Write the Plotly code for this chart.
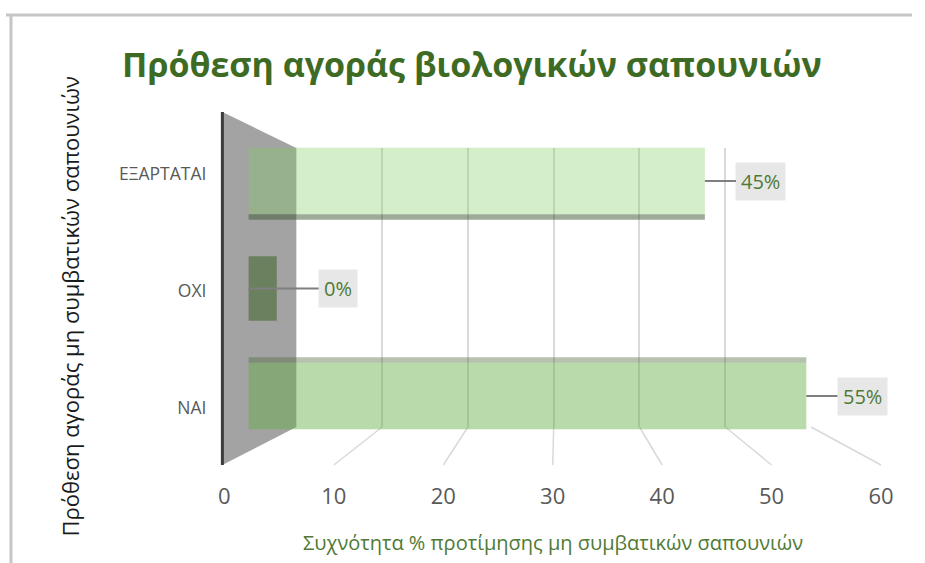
import plotly.graph_objects as go

# ---- data ----
categories = ["ΝΑΙ", "ΟΧΙ", "ΕΞΑΡΤΑΤΑΙ"]
values = [55, 0, 45]
label_texts = ["55%", "0%", "45%"]
x_ticks = [0, 10, 20, 30, 40, 50, 60]

title_text = "Πρόθεση αγοράς βιολογικών σαπουνιών"
x_title = "Συχνότητα % προτίμησης μη συμβατικών σαπουνιών"
y_title = "Πρόθεση αγοράς μη συμβατικών σαπουνιών"

W, H = 925, 563
# horizontal calibration of the capture (observed: screen_x = 0.98 * x + 5.5)
SX, OX = 0.98, 5.5
px = lambda v: ((v - OX) / SX) / W
py = lambda v: 1 - v / H

# perspective geometry (target pixels)
FRONT = (224, 881)     # value 0 and 60 at floor front edge
BACK = (296, 811)      # value 0 and 60 on back wall
MID = (248, 857)       # bar front faces
WALL_TOP, WALL_BOT, FRONT_Y = 148, 427, 465
XMAX = 60
DEPTH = 2.8            # visible depth of a zero-length bar (style)

fig = go.Figure()

# bars (last subplot so they sit above the grid)
bar_colors = ["rgba(100,172,66,0.45)", "rgba(100,172,66,0.45)", "rgba(125,205,95,0.34)"]
fig.add_trace(go.Bar(
    x=values, y=categories, orientation="h",
    marker=dict(color=bar_colors, line=dict(width=0)),
    width=0.62, xaxis="x3", yaxis="y3", hoverinfo="skip", showlegend=False,
))
# visible top / bottom faces of the 3-D bars
fig.add_trace(go.Bar(
    x=values, y=categories, orientation="h",
    marker=dict(color=["rgba(80,110,60,0.42)", "rgba(80,110,60,0.42)", "rgba(60,90,50,0.5)"],
                line=dict(width=0)),
    width=0.05, offset=[0.31, 0.31, -0.36], xaxis="x3", yaxis="y3",
    hoverinfo="skip", showlegend=False,
))
# end cap of a zero-length bar
fig.add_trace(go.Bar(
    x=[DEPTH if v == 0 else 0 for v in values], y=categories, orientation="h",
    marker=dict(color="rgba(60,100,40,0.55)", line=dict(width=0)),
    width=0.6, xaxis="x3", yaxis="y3", hoverinfo="skip", showlegend=False,
))
# dummy traces to instantiate the other subplots
fig.add_trace(go.Scatter(x=[None], y=[None], xaxis="x", yaxis="y", showlegend=False, hoverinfo="skip"))
fig.add_trace(go.Scatter(x=[None], y=[None], xaxis="x2", yaxis="y2", showlegend=False, hoverinfo="skip"))

bar_dom = [py(396 + 53.75), py(181 - 53.75)]
lab_dom = [py(408 + 58.5), py(174 - 58.5)]

fig.update_layout(
    width=W, height=H, autosize=False,
    margin=dict(l=0, r=0, t=0, b=0),
    paper_bgcolor="white", plot_bgcolor="rgba(0,0,0,0)",
    showlegend=False, barmode="overlay",
    font=dict(family="Open Sans", color="#595959"),
    title=dict(text=title_text, x=px(468), y=py(65), xanchor="center", yanchor="middle",
               font=dict(family="Open Sans", size=34, color="#3e6b24", weight=700)),
    # back wall grid
    xaxis=dict(domain=[px(BACK[0]), px(BACK[1])], range=[0, XMAX], tickvals=x_ticks[1:],
               showgrid=True, gridcolor="#d9d9d9", gridwidth=1.5, showticklabels=False,
               zeroline=False, showline=False, ticks="", anchor="y", fixedrange=True),
    yaxis=dict(domain=[py(WALL_BOT), py(WALL_TOP)], range=[0, 1], showgrid=False,
               showticklabels=False, zeroline=False, showline=False, ticks="", anchor="x"),
    # front tick labels + category labels
    xaxis2=dict(domain=[px(FRONT[0]), px(FRONT[1])], range=[0, XMAX], tickvals=x_ticks,
                showgrid=False, zeroline=False, showline=False, ticks="",
                anchor="free", position=py(481), tickfont=dict(size=22, color="#595959")),
    yaxis2=dict(domain=lab_dom, range=[-0.5, 2.5], tickvals=[0, 1, 2], ticktext=categories,
                showgrid=False, zeroline=False, showline=False, ticks="",
                anchor="free", position=px(206), tickfont=dict(size=17.5, color="#595959")),
    # bars
    xaxis3=dict(domain=[px(MID[0]), px(MID[1])], range=[0, XMAX], visible=False, anchor="y3"),
    yaxis3=dict(domain=bar_dom, range=[-0.5, 2.5], type="category",
                categoryorder="array", categoryarray=categories, visible=False, anchor="x3"),
)

shapes = []
# outer chart border (top and left)
shapes.append(dict(type="line", xref="paper", yref="paper", x0=0, x1=1, y0=py(15), y1=py(15),
                   line=dict(color="#c6c6c6", width=3), layer="below"))
shapes.append(dict(type="line", xref="paper", yref="paper", x0=px(10.5), x1=px(10.5), y0=py(15), y1=py(563),
                   line=dict(color="#c6c6c6", width=3), layer="below"))
# side wall
wall = (f"M {px(222)} {py(112)} L {px(BACK[0])} {py(WALL_TOP)} L {px(BACK[0])} {py(WALL_BOT)} "
        f"L {px(222)} {py(FRONT_Y)} Z")
shapes.append(dict(type="path", xref="paper", yref="paper", path=wall,
                   fillcolor="#a3a3a3", line=dict(width=0), layer="below"))
# floor grid lines from back wall to front edge
for v in x_ticks[1:]:
    xb = BACK[0] + v / XMAX * (BACK[1] - BACK[0])
    xf = FRONT[0] + v / XMAX * (FRONT[1] - FRONT[0])
    shapes.append(dict(type="line", xref="paper", yref="paper", x0=px(xb), y0=py(WALL_BOT),
                       x1=px(xf), y1=py(FRONT_Y), line=dict(color="#d9d9d9", width=1.5), layer="below"))
# vertical axis line
shapes.append(dict(type="line", xref="paper", yref="paper", x0=px(222), x1=px(222), y0=py(112), y1=py(FRONT_Y),
                   line=dict(color="#3c3c3c", width=3), layer="above"))
fig.update_layout(shapes=shapes)

annotations = []
for cat, v, t in zip(categories, values, label_texts):
    annotations.append(dict(
        x=v, y=cat, xref="x3", yref="y3", text=t, showarrow=True, arrowhead=0,
        arrowcolor="#7f7f7f", arrowwidth=2.2, ax=(88 if v == 0 else 55) / SX, ay=0,
        bgcolor="#e7e7e7", borderpad=5, font=dict(size=20, color="#4f7a35", family="Open Sans"),
    ))
annotations.append(dict(text=x_title, xref="paper", yref="paper", x=px(553), y=py(542),
                        showarrow=False, xanchor="center", yanchor="middle",
                        font=dict(size=20, color="#4f7a35", family="Open Sans")))
annotations.append(dict(text=y_title, xref="paper", yref="paper", x=px(70), y=py(306),
                        showarrow=False, xanchor="center", yanchor="middle", textangle=-90,
                        font=dict(size=22, color="#1a1a1a", family="Open Sans")))
fig.update_layout(annotations=annotations)

fig.write_html("out.html", config={"responsive": False, "displayModeBar": False})
